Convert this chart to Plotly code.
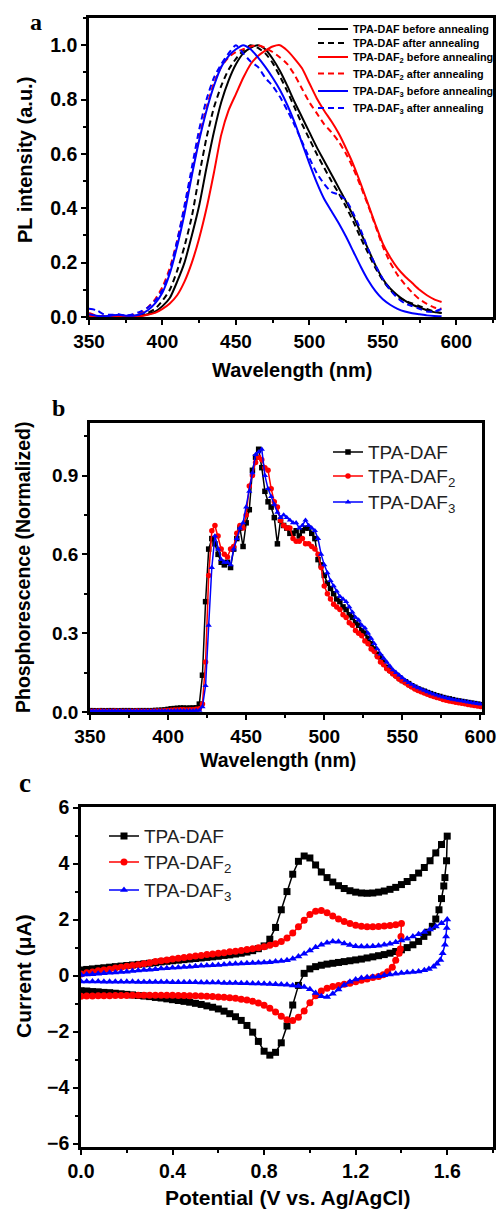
import plotly.graph_objects as go

# ---------------- Panel a: PL spectra ----------------
pl_wavelength = [350, 355, 360, 365, 370, 375, 380, 385, 390, 395, 400, 405, 410, 415, 420, 425, 430, 435, 440, 445,
                 450, 455, 460, 465, 470, 475, 480, 485, 490, 495, 500, 505, 510, 515, 520, 525, 530, 535, 540, 545,
                 550, 555, 560, 565, 570, 575, 580, 585, 590]
pl_daf_before = [0.005, 0.003, 0.002, 0.003, 0.005, 0.003, 0.003, 0.005, 0.010, 0.020, 0.040, 0.070, 0.130, 0.200, 0.300,
                 0.410, 0.550, 0.680, 0.790, 0.870, 0.930, 0.970, 0.990, 1.000, 0.985, 0.950, 0.905, 0.850, 0.790, 0.735,
                 0.680, 0.625, 0.575, 0.525, 0.475, 0.425, 0.370, 0.310, 0.250, 0.190, 0.140, 0.105, 0.080, 0.060, 0.045,
                 0.035, 0.025, 0.018, 0.015]
pl_daf_after = [0.005, 0.005, 0.003, 0.005, 0.005, 0.003, 0.004, 0.008, 0.015, 0.030, 0.060, 0.100, 0.170, 0.260, 0.370,
                0.520, 0.660, 0.770, 0.850, 0.910, 0.950, 0.980, 1.000, 0.990, 0.970, 0.935, 0.885, 0.830, 0.770, 0.710,
                0.655, 0.600, 0.550, 0.500, 0.455, 0.405, 0.350, 0.290, 0.235, 0.180, 0.135, 0.100, 0.075, 0.060, 0.050,
                0.040, 0.030, 0.020, 0.015]
pl_daf2_before = [0.005, 0.002, 0.000, 0.003, 0.003, 0.000, 0.001, 0.003, 0.008, 0.015, 0.030, 0.050, 0.080, 0.130, 0.200,
                  0.290, 0.400, 0.530, 0.670, 0.760, 0.820, 0.880, 0.930, 0.960, 0.980, 0.995, 1.000, 0.980, 0.950, 0.915,
                  0.860, 0.805, 0.760, 0.720, 0.675, 0.620, 0.560, 0.490, 0.415, 0.340, 0.270, 0.220, 0.180, 0.150, 0.125,
                  0.100, 0.080, 0.065, 0.055]
pl_daf2_after = [0.015, 0.005, 0.003, 0.005, 0.005, 0.005, 0.008, 0.015, 0.035, 0.065, 0.110, 0.180, 0.280, 0.400, 0.530,
                 0.660, 0.770, 0.860, 0.920, 0.955, 0.975, 0.985, 0.995, 1.000, 0.990, 0.975, 0.955, 0.930, 0.890, 0.840,
                 0.790, 0.750, 0.710, 0.680, 0.645, 0.600, 0.545, 0.480, 0.410, 0.335, 0.260, 0.200, 0.155, 0.120, 0.090,
                 0.065, 0.048, 0.035, 0.030]
pl_daf3_before = [0.010, 0.005, 0.003, 0.005, 0.008, 0.005, 0.005, 0.010, 0.025, 0.050, 0.090, 0.160, 0.260, 0.380, 0.520,
                  0.650, 0.760, 0.850, 0.920, 0.960, 0.985, 1.000, 0.985, 0.955, 0.920, 0.880, 0.835, 0.780, 0.715, 0.640,
                  0.565, 0.495, 0.435, 0.390, 0.345, 0.295, 0.240, 0.185, 0.135, 0.095, 0.065, 0.045, 0.030, 0.020, 0.014,
                  0.010, 0.006, 0.004, 0.003]
pl_daf3_after = [0.030, 0.025, 0.010, 0.008, 0.010, 0.005, 0.010, 0.020, 0.035, 0.060, 0.100, 0.170, 0.280, 0.410, 0.550,
                 0.690, 0.800, 0.880, 0.930, 0.970, 1.000, 0.970, 0.940, 0.920, 0.880, 0.850, 0.810, 0.760, 0.705, 0.645,
                 0.585, 0.530, 0.490, 0.460, 0.450, 0.430, 0.380, 0.320, 0.250, 0.190, 0.140, 0.100, 0.070, 0.050, 0.040,
                 0.030, 0.020, 0.020, 0.030]

# ---------------- Panel b: phosphorescence ----------------
ph_wavelength = list(range(350, 601, 2))
ph_daf = ([0.005, 0.005, 0.004, 0.005, 0.005, 0.004, 0.005, 0.005, 0.005, 0.004, 0.005, 0.005, 0.005, 0.005, 0.004,
           0.005, 0.005, 0.005, 0.005, 0.005, 0.005, 0.006, 0.006, 0.007, 0.008]
          + [0.010, 0.012, 0.013, 0.014, 0.015, 0.015, 0.014, 0.015, 0.015, 0.016]
          + [0.03, 0.14, 0.42, 0.62, 0.66, 0.64, 0.60, 0.57, 0.56, 0.57, 0.55, 0.62, 0.66, 0.70, 0.63, 0.72, 0.77, 0.92,
             0.97, 1.00, 0.93, 0.84, 0.80, 0.78, 0.74, 0.64, 0.73, 0.71, 0.70, 0.68, 0.68, 0.69, 0.67, 0.69, 0.70, 0.70,
             0.68, 0.66, 0.58, 0.56, 0.52, 0.49, 0.47, 0.45, 0.43, 0.42, 0.40, 0.39, 0.37, 0.36, 0.34, 0.33, 0.31, 0.30,
             0.28, 0.26, 0.24, 0.22, 0.21, 0.19, 0.17, 0.16, 0.15, 0.14, 0.13, 0.12, 0.115, 0.108, 0.100, 0.094, 0.088,
             0.083, 0.079, 0.074, 0.070, 0.066, 0.062, 0.059, 0.055, 0.052, 0.050, 0.047, 0.044, 0.042, 0.040, 0.038,
             0.036, 0.034, 0.032, 0.030, 0.028])
ph_daf2 = ([0.003, 0.003, 0.003, 0.004, 0.003, 0.003, 0.003, 0.003, 0.004, 0.003, 0.003, 0.003, 0.003, 0.003, 0.003,
            0.004, 0.003, 0.003, 0.003, 0.003, 0.003, 0.004, 0.004, 0.004, 0.005]
           + [0.006, 0.007, 0.008, 0.008, 0.009, 0.009, 0.008, 0.009, 0.009, 0.010]
           + [0.012, 0.03, 0.19, 0.52, 0.69, 0.71, 0.67, 0.62, 0.60, 0.59, 0.62, 0.63, 0.68, 0.71, 0.70, 0.75, 0.86, 0.90,
              0.95, 0.97, 0.96, 0.93, 0.92, 0.85, 0.80, 0.78, 0.73, 0.71, 0.70, 0.70, 0.66, 0.65, 0.65, 0.66, 0.64, 0.64,
              0.63, 0.62, 0.60, 0.55, 0.48, 0.45, 0.43, 0.41, 0.40, 0.39, 0.37, 0.36, 0.34, 0.33, 0.31, 0.30, 0.29, 0.27,
              0.26, 0.24, 0.23, 0.21, 0.19, 0.18, 0.165, 0.155, 0.145, 0.135, 0.125, 0.118, 0.110, 0.102, 0.095, 0.088,
              0.082, 0.077, 0.072, 0.068, 0.063, 0.059, 0.055, 0.052, 0.048, 0.045, 0.042, 0.040, 0.037, 0.035, 0.033,
              0.031, 0.029, 0.027, 0.025, 0.023, 0.021])
ph_daf3 = ([0.004, 0.004, 0.004, 0.004, 0.004, 0.004, 0.004, 0.004, 0.004, 0.004, 0.004, 0.004, 0.004, 0.004, 0.004,
            0.004, 0.004, 0.004, 0.004, 0.004, 0.004, 0.004, 0.004, 0.004, 0.004]
           + [0.004, 0.004, 0.005, 0.005, 0.005, 0.005, 0.005, 0.005, 0.005, 0.006]
           + [0.006, 0.02, 0.10, 0.33, 0.55, 0.67, 0.62, 0.58, 0.57, 0.57, 0.56, 0.62, 0.66, 0.70, 0.72, 0.78, 0.84, 0.91,
              0.98, 0.99, 1.00, 0.90, 0.85, 0.82, 0.79, 0.76, 0.74, 0.75, 0.74, 0.73, 0.72, 0.72, 0.70, 0.71, 0.73, 0.71,
              0.70, 0.69, 0.66, 0.60, 0.56, 0.53, 0.50, 0.48, 0.46, 0.44, 0.43, 0.42, 0.40, 0.38, 0.36, 0.35, 0.33, 0.32,
              0.30, 0.28, 0.26, 0.24, 0.22, 0.205, 0.19, 0.175, 0.16, 0.15, 0.14, 0.13, 0.12, 0.112, 0.105, 0.098, 0.092,
              0.087, 0.082, 0.077, 0.072, 0.068, 0.064, 0.060, 0.057, 0.054, 0.051, 0.048, 0.046, 0.044, 0.042, 0.040,
              0.038, 0.036, 0.034, 0.032, 0.030])

# ---------------- Panel c: cyclic voltammetry ----------------
cv_fwd_v_16 = [round(i * 0.025, 3) for i in range(65)]   # 0 .. 1.6 V
cv_fwd_v_14 = [round(i * 0.025, 3) for i in range(57)]   # 0 .. 1.4 V

cv_daf_fwd_i = [0.20, 0.22, 0.24, 0.26, 0.28, 0.30, 0.32, 0.34, 0.36, 0.38, 0.40, 0.42, 0.44, 0.46, 0.49, 0.51, 0.53,
                0.55, 0.57, 0.59, 0.61, 0.63, 0.65, 0.67, 0.69, 0.72, 0.74, 0.77, 0.80, 0.84, 0.89, 0.96, 1.06, 1.30,
                1.72, 2.35, 3.00, 3.62, 4.08, 4.27, 4.20, 3.95, 3.70, 3.50, 3.34, 3.21, 3.11, 3.03, 2.98, 2.95, 2.94,
                2.95, 2.98, 3.02, 3.08, 3.15, 3.25, 3.36, 3.50, 3.66, 3.86, 4.10, 4.38, 4.68, 4.98]
cv_daf_rev_v = [1.597, 1.590, 1.585, 1.575, 1.564, 1.550, 1.535, 1.515, 1.498, 1.475, 1.450, 1.425, 1.400, 1.375, 1.350,
                1.325, 1.300, 1.275, 1.250, 1.225, 1.200, 1.175, 1.150, 1.125, 1.100, 1.075, 1.050, 1.025, 1.000, 0.975,
                0.950, 0.925, 0.900, 0.875, 0.850, 0.825, 0.800, 0.775, 0.750, 0.725, 0.700, 0.675, 0.650, 0.625, 0.600,
                0.575, 0.550, 0.525, 0.500, 0.475, 0.450, 0.425, 0.400, 0.375, 0.350, 0.325, 0.300, 0.275, 0.250, 0.225,
                0.200, 0.175, 0.150, 0.125, 0.100, 0.075, 0.050, 0.025, 0.000]
cv_daf_rev_i = [4.10, 3.50, 3.20, 2.75, 2.35, 2.02, 1.76, 1.55, 1.40, 1.22, 1.10, 1.00, 0.92, 0.86, 0.80, 0.75, 0.71,
                0.67, 0.63, 0.59, 0.56, 0.53, 0.50, 0.47, 0.44, 0.41, 0.37, 0.32, 0.24, 0.08, -0.35, -1.05, -1.80, -2.40,
                -2.74, -2.84, -2.70, -2.35, -2.02, -1.78, -1.60, -1.47, -1.36, -1.27, -1.19, -1.13, -1.08, -1.03, -0.99,
                -0.95, -0.92, -0.89, -0.86, -0.83, -0.80, -0.78, -0.75, -0.73, -0.71, -0.69, -0.67, -0.65, -0.63, -0.61,
                -0.60, -0.58, -0.57, -0.55, -0.54]

cv_daf2_fwd_i = [0.06, 0.10, 0.13, 0.17, 0.20, 0.23, 0.27, 0.30, 0.33, 0.36, 0.39, 0.42, 0.46, 0.50, 0.53, 0.56, 0.59,
                 0.62, 0.65, 0.67, 0.70, 0.72, 0.75, 0.77, 0.80, 0.82, 0.85, 0.87, 0.90, 0.93, 0.96, 0.99, 1.03, 1.08,
                 1.14, 1.22, 1.34, 1.52, 1.74, 1.98, 2.18, 2.30, 2.32, 2.24, 2.13, 2.02, 1.93, 1.86, 1.80, 1.76, 1.74,
                 1.74, 1.75, 1.77, 1.79, 1.82, 1.86]
cv_daf2_rev_v = [1.398, 1.395, 1.390, 1.375, 1.360, 1.340, 1.320, 1.300, 1.275, 1.250, 1.225, 1.200, 1.175, 1.150, 1.125,
                 1.100, 1.075, 1.050, 1.025, 1.000, 0.975, 0.950, 0.925, 0.900, 0.875, 0.850, 0.825, 0.800, 0.775, 0.750,
                 0.725, 0.700, 0.675, 0.650, 0.625, 0.600, 0.575, 0.550, 0.525, 0.500, 0.475, 0.450, 0.425, 0.400, 0.375,
                 0.350, 0.325, 0.300, 0.275, 0.250, 0.225, 0.200, 0.175, 0.150, 0.125, 0.100, 0.075, 0.050, 0.025, 0.000]
cv_daf2_rev_i = [1.40, 0.95, 0.80, 0.55, 0.30, 0.14, 0.03, -0.03, -0.07, -0.12, -0.17, -0.22, -0.27, -0.31, -0.35, -0.39,
                 -0.45, -0.55, -0.72, -0.97, -1.26, -1.49, -1.60, -1.58, -1.45, -1.30, -1.17, -1.06, -0.98, -0.92, -0.87,
                 -0.84, -0.81, -0.79, -0.77, -0.76, -0.75, -0.74, -0.73, -0.72, -0.72, -0.71, -0.71, -0.70, -0.70, -0.70,
                 -0.70, -0.70, -0.70, -0.70, -0.70, -0.71, -0.71, -0.71, -0.72, -0.72, -0.72, -0.73, -0.73, -0.74]

cv_daf3_fwd_i = [0.02, 0.04, 0.05, 0.07, 0.08, 0.10, 0.11, 0.13, 0.14, 0.16, 0.18, 0.20, 0.21, 0.23, 0.25, 0.26, 0.28,
                 0.29, 0.31, 0.32, 0.33, 0.35, 0.36, 0.37, 0.38, 0.40, 0.41, 0.42, 0.43, 0.44, 0.45, 0.46, 0.47, 0.48,
                 0.50, 0.52, 0.55, 0.60, 0.68, 0.78, 0.90, 1.01, 1.10, 1.17, 1.22, 1.21, 1.15, 1.09, 1.05, 1.04, 1.04,
                 1.05, 1.07, 1.10, 1.14, 1.19, 1.25, 1.32, 1.40, 1.48, 1.56, 1.65, 1.75, 1.87, 2.00]
cv_daf3_rev_v = [1.598, 1.595, 1.590, 1.580, 1.570, 1.555, 1.540, 1.520, 1.500, 1.475, 1.450, 1.425, 1.400, 1.375, 1.350,
                 1.325, 1.300, 1.275, 1.250, 1.225, 1.200, 1.175, 1.150, 1.125, 1.100, 1.075, 1.050, 1.025, 1.000, 0.975,
                 0.950, 0.925, 0.900, 0.875, 0.850, 0.825, 0.800, 0.775, 0.750, 0.725, 0.700, 0.675, 0.650, 0.625, 0.600,
                 0.575, 0.550, 0.525, 0.500, 0.475, 0.450, 0.425, 0.400, 0.375, 0.350, 0.325, 0.300, 0.275, 0.250, 0.225,
                 0.200, 0.175, 0.150, 0.125, 0.100, 0.075, 0.050, 0.025, 0.000]
cv_daf3_rev_i = [1.70, 1.40, 1.10, 0.80, 0.56, 0.42, 0.32, 0.24, 0.19, 0.15, 0.13, 0.11, 0.09, 0.07, 0.04, 0.01, -0.02,
                 -0.04, -0.06, -0.09, -0.14, -0.22, -0.34, -0.50, -0.65, -0.76, -0.74, -0.62, -0.49, -0.41, -0.37, -0.35,
                 -0.33, -0.32, -0.31, -0.30, -0.29, -0.28, -0.28, -0.27, -0.27, -0.26, -0.26, -0.26, -0.25, -0.25, -0.25,
                 -0.25, -0.24, -0.24, -0.24, -0.24, -0.24, -0.23, -0.23, -0.23, -0.23, -0.23, -0.23, -0.22, -0.22, -0.22,
                 -0.22, -0.22, -0.22, -0.21, -0.21, -0.21, -0.21]

# ---------------- figure ----------------
W, H = 498, 1209
FONT = "Arial, Liberation Sans, sans-serif"
BLACK, RED, BLUE = "#000000", "#ff0000", "#0000ff"


def px_x(p):
    return p / W


def px_y(p):
    return 1 - p / H


fig = go.Figure()
legends = {}


def leg_top(center, fs):
    # plotly places the first legend item centre 5 + (max(1.3*fs,16)+3)/2 px below the legend top
    return center - (5 + (max(1.3 * fs, 16) + 3) / 2)


# panel a (one legend per entry so the rows can sit as tightly as in the original)
LEG_A_FS = 10.8
pl_series = [
    ("TPA-DAF before annealing", pl_daf_before, BLACK, "solid", 29),
    ("TPA-DAF after annealing", pl_daf_after, BLACK, "6px,4px", 43),
    ("TPA-DAF<sub>2</sub> before annealing", pl_daf2_before, RED, "solid", 57),
    ("TPA-DAF<sub>2</sub> after annealing", pl_daf2_after, RED, "6px,4px", 73.5),
    ("TPA-DAF<sub>3</sub> before annealing", pl_daf3_before, BLUE, "solid", 91),
    ("TPA-DAF<sub>3</sub> after annealing", pl_daf3_after, BLUE, "6px,4px", 108),
]
lid = 1
for name, ys, col, dash, cy in pl_series:
    key = "legend" if lid == 1 else f"legend{lid}"
    fig.add_trace(go.Scatter(x=pl_wavelength, y=ys, name=name, mode="lines",
                             line=dict(color=col, width=2, dash=dash, shape="spline", smoothing=0.6),
                             xaxis="x", yaxis="y", legend=key))
    legends[key] = dict(x=px_x(313), y=px_y(leg_top(cy, LEG_A_FS)), xanchor="left", yanchor="top",
                        bgcolor="rgba(0,0,0,0)", borderwidth=0,
                        font=dict(family=FONT, size=LEG_A_FS, color="black", weight="bold"))
    lid += 1

LEG_BC_FS = 19
ph_series = [
    ("TPA-DAF", ph_daf, BLACK, "square", 452),
    ("TPA-DAF<sub>2</sub>", ph_daf2, RED, "circle", 476),
    ("TPA-DAF<sub>3</sub>", ph_daf3, BLUE, "triangle-up", 502),
]
for name, ys, col, sym, cy in ph_series:
    key = f"legend{lid}"
    fig.add_trace(go.Scatter(x=ph_wavelength, y=ys, name=name, mode="lines+markers",
                             line=dict(color=col, width=1.5),
                             marker=dict(color=col, symbol=sym, size=5.5),
                             xaxis="x2", yaxis="y2", legend=key))
    legends[key] = dict(x=px_x(328), y=px_y(leg_top(cy, LEG_BC_FS)), xanchor="left", yanchor="top",
                        bgcolor="rgba(0,0,0,0)", borderwidth=0,
                        font=dict(family=FONT, size=LEG_BC_FS, color="#222222"))
    lid += 1

cv_series = [
    ("TPA-DAF", cv_fwd_v_16, cv_daf_fwd_i, cv_daf_rev_v, cv_daf_rev_i, BLACK, "square", 836),
    ("TPA-DAF<sub>2</sub>", cv_fwd_v_14, cv_daf2_fwd_i, cv_daf2_rev_v, cv_daf2_rev_i, RED, "circle", 862),
    ("TPA-DAF<sub>3</sub>", cv_fwd_v_16, cv_daf3_fwd_i, cv_daf3_rev_v, cv_daf3_rev_i, BLUE, "triangle-up", 890),
]
for name, fv, fi, rv, ri, col, sym, cy in cv_series:
    key = f"legend{lid}"
    fig.add_trace(go.Scatter(x=fv + rv, y=fi + ri, name=name, mode="lines+markers",
                             line=dict(color=col, width=1.5),
                             marker=dict(color=col, symbol=sym, size=7),
                             xaxis="x3", yaxis="y3", legend=key))
    legends[key] = dict(x=px_x(104), y=px_y(leg_top(cy, LEG_BC_FS)), xanchor="left", yanchor="top",
                        bgcolor="rgba(0,0,0,0)", borderwidth=0,
                        font=dict(family=FONT, size=LEG_BC_FS, color="#222222"))
    lid += 1


def axis(domain, rng, dtick, minor, fsize, fmt=None, tick0=None, anchor=None):
    d = dict(domain=domain, range=rng, dtick=dtick, showline=True, mirror=True, linecolor="black", linewidth=2.5,
             ticks="outside", ticklen=5, tickwidth=2, tickcolor="black", showgrid=False, zeroline=False,
             automargin=False,
             tickfont=dict(family=FONT, size=fsize, color="black", weight="bold"),
             minor=dict(dtick=minor, ticks="outside", ticklen=3, tickwidth=1.5, tickcolor="black", showgrid=False),
             anchor=anchor)
    if fmt:
        d["tickformat"] = fmt
    if tick0 is not None:
        d["tick0"] = tick0
    return d


fig.update_layout(
    width=W, height=H, margin=dict(l=0, r=0, t=0, b=0, autoexpand=False),
    paper_bgcolor="white", plot_bgcolor="white", showlegend=True,
    xaxis=axis([px_x(89), px_x(493)], [350, 625], 50, 25, 19, tick0=350, anchor="y"),
    yaxis=axis([px_y(317), px_y(18)], [0, 1.1], 0.2, 0.1, 19.5, fmt=".1f", tick0=0, anchor="x"),
    xaxis2=axis([px_x(90), px_x(482)], [350, 601], 50, 25, 19, tick0=350, anchor="y2"),
    yaxis2=axis([px_y(712), px_y(423)], [0, 1.1], 0.3, 0.15, 19, fmt=".1f", tick0=0, anchor="x2"),
    xaxis3=axis([px_x(81), px_x(493)], [0, 1.8], 0.4, 0.2, 19.5, fmt=".1f", tick0=0, anchor="y3"),
    yaxis3=axis([px_y(1147), px_y(807)], [-6.12, 6.02], 2, 1, 19.5, fmt="d", tick0=0, anchor="x3"),
    **legends,
)

ann_font = dict(family=FONT, size=20, color="black", weight="bold")
serif = dict(family="Liberation Serif, Times New Roman, serif", size=24, color="black", weight="bold")
annotations = [
    dict(text="Wavelength (nm)", x=px_x(292), y=px_y(370), font=ann_font),
    dict(text="PL intensity (a.u.)", x=px_x(25), y=px_y(160), font=ann_font, textangle=-90),
    dict(text="Wavelength (nm)", x=px_x(278), y=px_y(760), font=dict(ann_font, size=19.5)),
    dict(text="Phosphorescence (Normalized)", x=px_x(23), y=px_y(567), font=dict(ann_font, size=19.5),
         textangle=-90),
    dict(text="Potential (V vs. Ag/AgCl)", x=px_x(287), y=px_y(1197), font=dict(ann_font, size=21)),
    dict(text="Current (μA)", x=px_x(23), y=px_y(976), font=dict(ann_font, size=21), textangle=-90),
    dict(text="a", x=px_x(36), y=px_y(22), font=serif),
    dict(text="b", x=px_x(58), y=px_y(408), font=serif),
    dict(text="c", x=px_x(25), y=px_y(783), font=dict(serif, size=27)),
]
for a in annotations:
    a.update(xref="paper", yref="paper", showarrow=False, xanchor="center", yanchor="middle")
fig.update_layout(annotations=annotations)

# the page body has a default 8px margin; remove it so the 498x1209 figure fills the window exactly
fig.write_html("out.html", config={"displayModeBar": False},
               post_script="document.body.style.margin='0px';")
